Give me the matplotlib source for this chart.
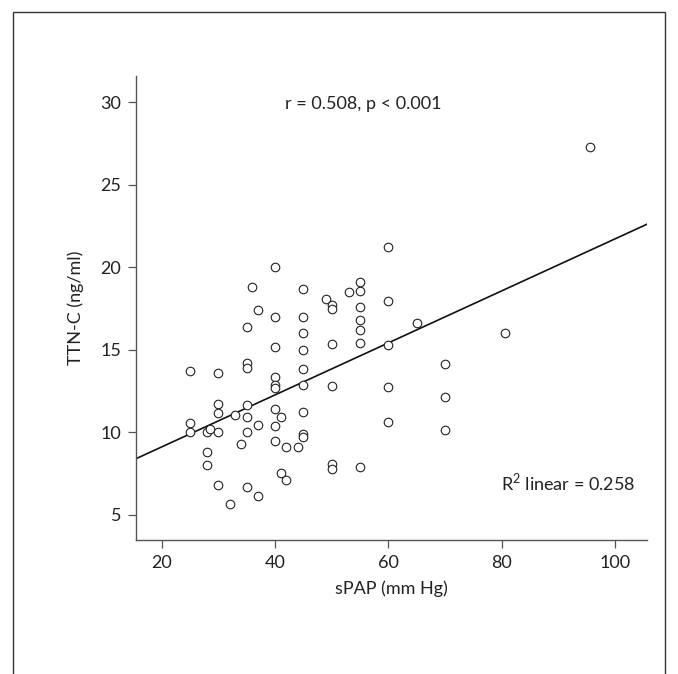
import numpy as np
import matplotlib.pyplot as plt
from matplotlib.patches import Rectangle

plt.rcParams['font.family'] = ['Lato', 'DejaVu Sans']
plt.rcParams['mathtext.fontset'] = 'custom'
plt.rcParams['mathtext.rm'] = 'Lato'

# sPAP (mm Hg) and TTN-C (ng/ml)
spap = [40, 36, 45, 37, 40, 45, 35, 45, 40, 45,
        25, 30, 35, 35, 45, 40, 40, 40, 45, 30,
        35, 30, 33, 35, 40, 41, 45, 25, 25, 28,
        28.5, 30, 37, 35, 34, 40, 40, 42, 44, 45,
        45, 28, 28, 30, 35, 37, 32, 41, 42, 60,
        55, 55, 53, 49, 50, 50, 60, 55, 55, 55,
        65, 50, 55, 60, 70, 50, 60, 70, 60, 70,
        50, 50, 55, 95.5, 80.5]
ttnc = [20.05, 18.8, 18.72, 17.42, 17.02, 17.02, 16.41, 16.03, 15.16, 15.02,
        13.75, 13.6, 14.19, 13.92, 13.83, 13.35, 12.86, 12.72, 12.86, 11.73,
        11.65, 11.16, 11.05, 10.96, 11.4, 10.96, 11.26, 10.6, 10.05, 10.0,
        10.22, 10.0, 10.45, 10.0, 9.3, 10.38, 9.48, 9.1, 9.1, 9.91,
        9.75, 8.82, 8.01, 6.8, 6.7, 6.15, 5.67, 7.53, 7.1, 21.26,
        19.14, 18.6, 18.53, 18.1, 17.75, 17.5, 17.95, 17.62, 16.84, 16.23,
        16.64, 15.34, 15.4, 15.28, 14.13, 12.82, 12.75, 12.15, 10.64, 10.13,
        8.09, 7.77, 7.89, 27.32, 16.0]

# linear fit as printed in the figure
fit_intercept = 5.97
fit_slope = 0.1576

xticks = [20, 40, 60, 80, 100]
yticks = [5, 10, 15, 20, 25, 30]

fig = plt.figure(figsize=(6.78, 6.74), dpi=100)

# outer frame around the panel
fig.patches.append(Rectangle((13 / 678, -0.05), 652 / 678, 1.05 - 12 / 674,
                             transform=fig.transFigure, fill=False,
                             edgecolor='#333333', linewidth=1.0))

ax = fig.add_axes([136 / 678, 134 / 674, 511 / 678, 464 / 674])
ax.scatter(spap, ttnc, s=38, facecolors='white', edgecolors='#222222',
           linewidths=0.8, zorder=3)
ax.axline((0, fit_intercept), slope=fit_slope, color='#111111', linewidth=1.2, zorder=2)

ax.set_xlim(15.46, 105.64)
ax.set_ylim(3.48, 31.6)
ax.set_xticks(xticks)
ax.set_yticks(yticks)

for side in ['top', 'right']:
    ax.spines[side].set_visible(False)
for side in ['left', 'bottom']:
    ax.spines[side].set_color('#555555')
    ax.spines[side].set_linewidth(1.0)
ax.tick_params(direction='out', length=5.5, width=0.9, color='#555555',
               labelsize=13, labelcolor='#222222', pad=5)

ax.set_xlabel('sPAP (mm Hg)', fontsize=13, color='#222222', labelpad=7)
ax.set_ylabel('TTN-C (ng/ml)', fontsize=13, color='#222222', labelpad=12)

ax.text(0.444, 0.94, 'r = 0.508, p < 0.001', transform=ax.transAxes,
        ha='center', va='center', fontsize=13, color='#222222')
ax.text(0.845, 0.125, r'R$^{\mathregular{2}}$ linear = 0.258', transform=ax.transAxes,
        ha='center', va='center', fontsize=13, color='#222222')

fig.savefig('out.png', dpi=100)
